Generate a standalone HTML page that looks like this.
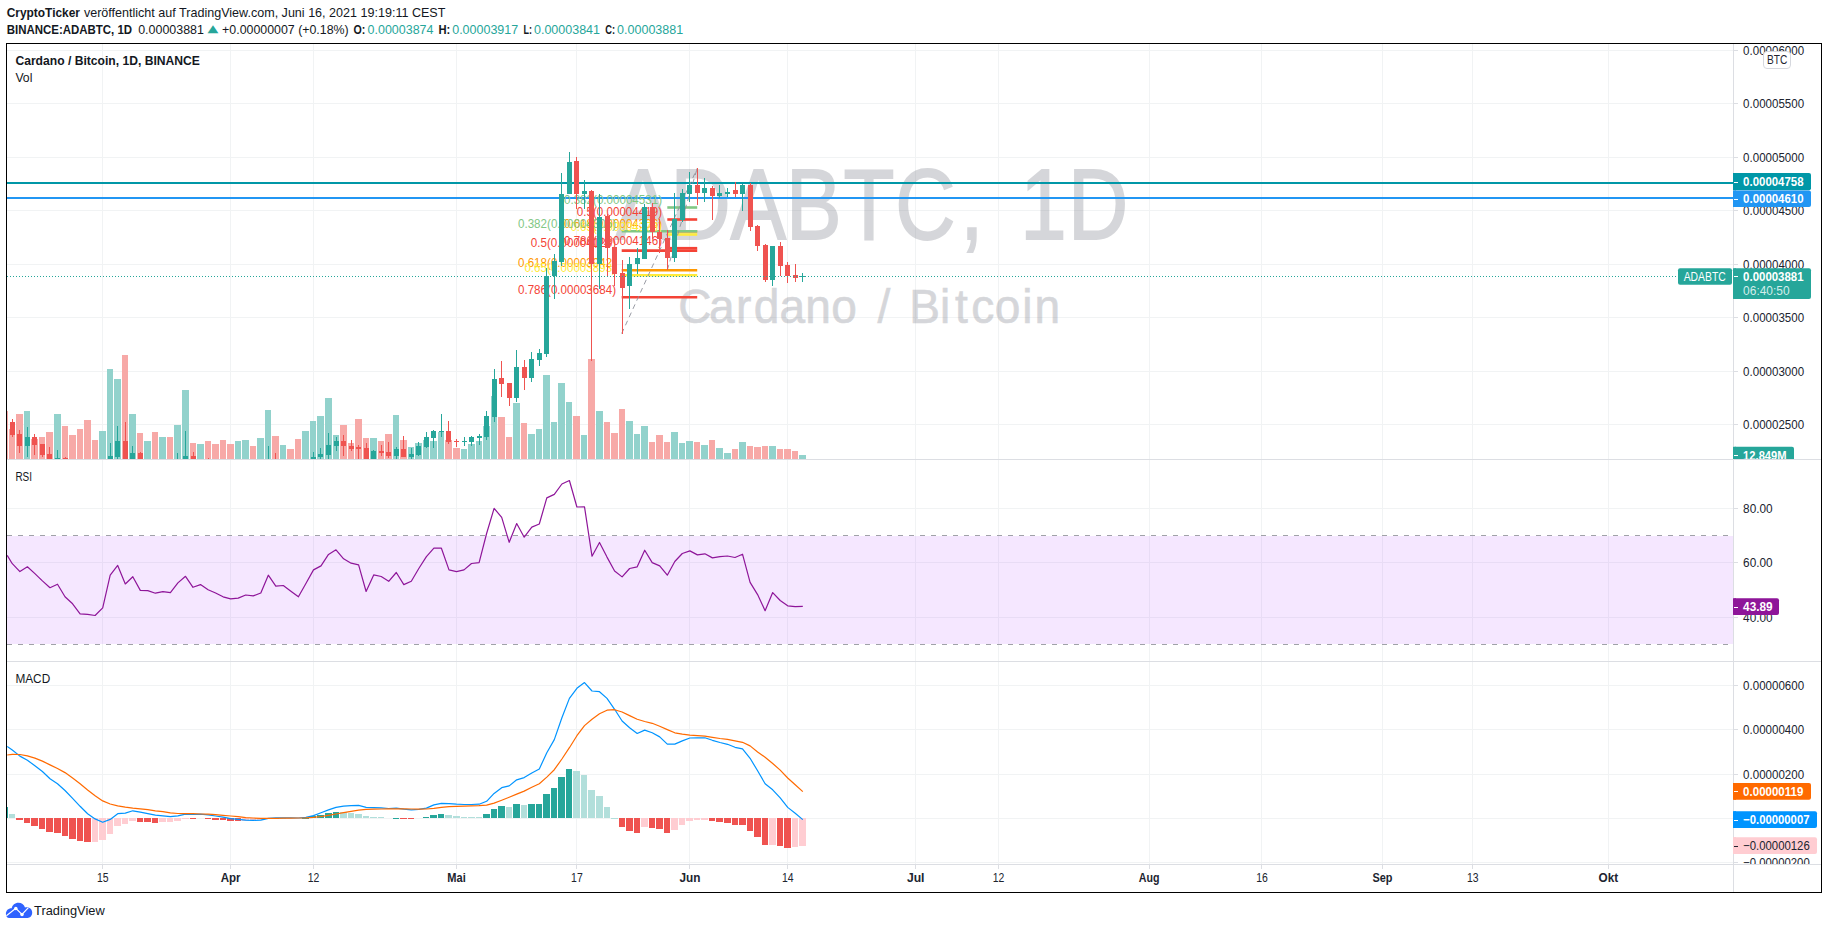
<!DOCTYPE html>
<html lang="de"><head><meta charset="utf-8"><title>ADABTC 1D - TradingView</title>
<style>html,body{margin:0;padding:0;background:#fff;}svg{display:block;}</style></head>
<body>
<svg width="1828" height="929" viewBox="0 0 1828 929" font-family='"Liberation Sans", sans-serif' font-size="12">
<defs>
<clipPath id="cpMain"><rect x="7" y="44" width="1726" height="415"/></clipPath>
<clipPath id="cpRsi"><rect x="7" y="460" width="1726" height="201"/></clipPath>
<clipPath id="cpMacd"><rect x="7" y="662" width="1726" height="202"/></clipPath>
<clipPath id="cpAxMain"><rect x="1733" y="44" width="88" height="415"/></clipPath>
<clipPath id="cpAxRsi"><rect x="1733" y="460" width="88" height="201"/></clipPath>
<clipPath id="cpAxMacd"><rect x="1733" y="662" width="88" height="202"/></clipPath>
</defs>
<rect width="1828" height="929" fill="#fff"/>
<g font-size="13">
<text x="6.7" y="17" fill="#131722" font-weight="bold" textLength="73.3" lengthAdjust="spacingAndGlyphs" >CryptoTicker</text>
<text x="83.9" y="17" fill="#131722" textLength="361.5" lengthAdjust="spacingAndGlyphs" >veröffentlicht auf TradingView.com, Juni 16, 2021 19:19:11 CEST</text>
<text x="6.7" y="34" fill="#131722" font-weight="bold" textLength="125.4" lengthAdjust="spacingAndGlyphs" >BINANCE:ADABTC, 1D</text>
<text x="138.2" y="34" fill="#131722" textLength="65.7" lengthAdjust="spacingAndGlyphs" >0.00003881</text>
<text x="207.6" y="32.1" font-family="DejaVu Sans, sans-serif" font-size="10.5" fill="#26a69a" textLength="10.8" lengthAdjust="spacingAndGlyphs">▲</text>
<text x="222.1" y="34" fill="#131722" textLength="126.6" lengthAdjust="spacingAndGlyphs" >+0.00000007 (+0.18%)</text>
<text x="353.4" y="34" fill="#131722" font-weight="bold" textLength="11.8" lengthAdjust="spacingAndGlyphs" >O:</text>
<text x="367.6" y="34" fill="#26a69a" textLength="65.9" lengthAdjust="spacingAndGlyphs" >0.00003874</text>
<text x="438.5" y="34" fill="#131722" font-weight="bold" textLength="11.8" lengthAdjust="spacingAndGlyphs" >H:</text>
<text x="452.2" y="34" fill="#26a69a" textLength="66" lengthAdjust="spacingAndGlyphs" >0.00003917</text>
<text x="523.5" y="34" fill="#131722" font-weight="bold" textLength="8.5" lengthAdjust="spacingAndGlyphs" >L:</text>
<text x="534" y="34" fill="#26a69a" textLength="66" lengthAdjust="spacingAndGlyphs" >0.00003841</text>
<text x="605.3" y="34" fill="#131722" font-weight="bold" textLength="9.8" lengthAdjust="spacingAndGlyphs" >C:</text>
<text x="617.1" y="34" fill="#26a69a" textLength="66.1" lengthAdjust="spacingAndGlyphs" >0.00003881</text>
</g>
<g stroke="#f1f3f4" stroke-width="1" shape-rendering="crispEdges">
<line x1="102.5" y1="44" x2="102.5" y2="864"/>
<line x1="230.5" y1="44" x2="230.5" y2="864"/>
<line x1="313.5" y1="44" x2="313.5" y2="864"/>
<line x1="456.5" y1="44" x2="456.5" y2="864"/>
<line x1="576.5" y1="44" x2="576.5" y2="864"/>
<line x1="689.5" y1="44" x2="689.5" y2="864"/>
<line x1="787.5" y1="44" x2="787.5" y2="864"/>
<line x1="915.5" y1="44" x2="915.5" y2="864"/>
<line x1="998.5" y1="44" x2="998.5" y2="864"/>
<line x1="1149.5" y1="44" x2="1149.5" y2="864"/>
<line x1="1261.5" y1="44" x2="1261.5" y2="864"/>
<line x1="1382.5" y1="44" x2="1382.5" y2="864"/>
<line x1="1472.5" y1="44" x2="1472.5" y2="864"/>
<line x1="1608.5" y1="44" x2="1608.5" y2="864"/>
<line x1="7" y1="50.5" x2="1733" y2="50.5"/>
<line x1="7" y1="103.5" x2="1733" y2="103.5"/>
<line x1="7" y1="157.5" x2="1733" y2="157.5"/>
<line x1="7" y1="210.5" x2="1733" y2="210.5"/>
<line x1="7" y1="264.5" x2="1733" y2="264.5"/>
<line x1="7" y1="317.5" x2="1733" y2="317.5"/>
<line x1="7" y1="371.5" x2="1733" y2="371.5"/>
<line x1="7" y1="424.5" x2="1733" y2="424.5"/>
<line x1="7" y1="508.5" x2="1733" y2="508.5"/>
<line x1="7" y1="562.5" x2="1733" y2="562.5"/>
<line x1="7" y1="617.5" x2="1733" y2="617.5"/>
<line x1="7" y1="685.5" x2="1733" y2="685.5"/>
<line x1="7" y1="729.5" x2="1733" y2="729.5"/>
<line x1="7" y1="774.5" x2="1733" y2="774.5"/>
<line x1="7" y1="818.5" x2="1733" y2="818.5"/>
<line x1="7" y1="862.5" x2="1733" y2="862.5"/>
</g>
<text transform="scale(0.825,1)" x="745.5 812.7 885.5 952.7 1022.3 1085.3 1163.9 1202.7 1236.7 1294.5" y="238.8" font-size="101" fill="#787b86" stroke="#787b86" stroke-width="1.8" opacity="0.3">ADABTC, 1D</text>
<text transform="scale(0.95,1)" x="713.9 746.3 774.8 793.3 820.6 847.7 875.1 903.0 923.8 944.6 957.1 989.4 1005.3 1022.4 1047.1 1076.0 1088.9" y="323.5" font-size="48.5" fill="#787b86" stroke="#787b86" stroke-width="0.7" opacity="0.3">Cardano / Bitcoin</text>
<g clip-path="url(#cpMain)">
<g shape-rendering="crispEdges">
<rect x="1" y="411" width="7" height="49" fill="#f7a9a7"/>
<rect x="9" y="429" width="6" height="31" fill="#f7a9a7"/>
<rect x="16" y="414" width="7" height="46" fill="#f7a9a7"/>
<rect x="24" y="411" width="6" height="49" fill="#92d2cc"/>
<rect x="31" y="439" width="7" height="21" fill="#f7a9a7"/>
<rect x="39" y="437" width="6" height="23" fill="#f7a9a7"/>
<rect x="46" y="432" width="7" height="28" fill="#f7a9a7"/>
<rect x="54" y="414" width="7" height="46" fill="#92d2cc"/>
<rect x="62" y="426" width="6" height="34" fill="#f7a9a7"/>
<rect x="69" y="435" width="7" height="25" fill="#f7a9a7"/>
<rect x="77" y="429" width="6" height="31" fill="#f7a9a7"/>
<rect x="84" y="420" width="7" height="40" fill="#f7a9a7"/>
<rect x="92" y="440" width="6" height="20" fill="#f7a9a7"/>
<rect x="99" y="431" width="7" height="29" fill="#92d2cc"/>
<rect x="107" y="369" width="6" height="91" fill="#92d2cc"/>
<rect x="114" y="379" width="7" height="81" fill="#92d2cc"/>
<rect x="122" y="355" width="6" height="105" fill="#f7a9a7"/>
<rect x="129" y="414" width="7" height="46" fill="#92d2cc"/>
<rect x="137" y="433" width="6" height="27" fill="#f7a9a7"/>
<rect x="144" y="441" width="7" height="19" fill="#92d2cc"/>
<rect x="152" y="432" width="6" height="28" fill="#f7a9a7"/>
<rect x="159" y="437" width="7" height="23" fill="#92d2cc"/>
<rect x="167" y="437" width="6" height="23" fill="#f7a9a7"/>
<rect x="174" y="425" width="7" height="35" fill="#92d2cc"/>
<rect x="182" y="390" width="7" height="70" fill="#92d2cc"/>
<rect x="190" y="443" width="6" height="17" fill="#f7a9a7"/>
<rect x="197" y="444" width="7" height="16" fill="#92d2cc"/>
<rect x="205" y="441" width="6" height="19" fill="#f7a9a7"/>
<rect x="212" y="444" width="7" height="16" fill="#f7a9a7"/>
<rect x="220" y="440" width="6" height="20" fill="#f7a9a7"/>
<rect x="227" y="444" width="7" height="16" fill="#f7a9a7"/>
<rect x="235" y="441" width="6" height="19" fill="#92d2cc"/>
<rect x="242" y="440" width="7" height="20" fill="#92d2cc"/>
<rect x="250" y="446" width="6" height="14" fill="#f7a9a7"/>
<rect x="257" y="438" width="7" height="22" fill="#92d2cc"/>
<rect x="265" y="410" width="6" height="50" fill="#92d2cc"/>
<rect x="272" y="436" width="7" height="24" fill="#f7a9a7"/>
<rect x="280" y="445" width="6" height="15" fill="#92d2cc"/>
<rect x="287" y="449" width="7" height="11" fill="#f7a9a7"/>
<rect x="295" y="439" width="6" height="21" fill="#f7a9a7"/>
<rect x="302" y="431" width="7" height="29" fill="#92d2cc"/>
<rect x="310" y="421" width="6" height="39" fill="#92d2cc"/>
<rect x="317" y="416" width="7" height="44" fill="#92d2cc"/>
<rect x="325" y="398" width="7" height="62" fill="#92d2cc"/>
<rect x="333" y="435" width="6" height="25" fill="#92d2cc"/>
<rect x="340" y="425" width="7" height="35" fill="#f7a9a7"/>
<rect x="348" y="443" width="6" height="17" fill="#f7a9a7"/>
<rect x="355" y="419" width="7" height="41" fill="#f7a9a7"/>
<rect x="363" y="438" width="6" height="22" fill="#f7a9a7"/>
<rect x="370" y="438" width="7" height="22" fill="#92d2cc"/>
<rect x="378" y="441" width="6" height="19" fill="#f7a9a7"/>
<rect x="385" y="434" width="7" height="26" fill="#f7a9a7"/>
<rect x="393" y="415" width="6" height="45" fill="#92d2cc"/>
<rect x="400" y="440" width="7" height="20" fill="#f7a9a7"/>
<rect x="408" y="447" width="6" height="13" fill="#92d2cc"/>
<rect x="415" y="443" width="7" height="17" fill="#92d2cc"/>
<rect x="423" y="440" width="6" height="20" fill="#92d2cc"/>
<rect x="430" y="441" width="7" height="19" fill="#92d2cc"/>
<rect x="438" y="432" width="6" height="28" fill="#92d2cc"/>
<rect x="445" y="440" width="7" height="20" fill="#f7a9a7"/>
<rect x="453" y="448" width="7" height="12" fill="#f7a9a7"/>
<rect x="461" y="449" width="6" height="11" fill="#92d2cc"/>
<rect x="468" y="444" width="7" height="16" fill="#92d2cc"/>
<rect x="476" y="441" width="6" height="19" fill="#92d2cc"/>
<rect x="483" y="426" width="7" height="34" fill="#92d2cc"/>
<rect x="491" y="396" width="6" height="64" fill="#92d2cc"/>
<rect x="498" y="417" width="7" height="43" fill="#f7a9a7"/>
<rect x="506" y="437" width="6" height="23" fill="#f7a9a7"/>
<rect x="513" y="403" width="7" height="57" fill="#92d2cc"/>
<rect x="521" y="423" width="6" height="37" fill="#f7a9a7"/>
<rect x="528" y="434" width="7" height="26" fill="#92d2cc"/>
<rect x="536" y="429" width="6" height="31" fill="#92d2cc"/>
<rect x="543" y="375" width="7" height="85" fill="#92d2cc"/>
<rect x="551" y="422" width="6" height="38" fill="#92d2cc"/>
<rect x="558" y="383" width="7" height="77" fill="#92d2cc"/>
<rect x="566" y="402" width="6" height="58" fill="#92d2cc"/>
<rect x="573" y="416" width="7" height="44" fill="#f7a9a7"/>
<rect x="581" y="435" width="6" height="25" fill="#92d2cc"/>
<rect x="588" y="359" width="7" height="101" fill="#f7a9a7"/>
<rect x="596" y="411" width="7" height="49" fill="#92d2cc"/>
<rect x="604" y="422" width="6" height="38" fill="#f7a9a7"/>
<rect x="611" y="433" width="7" height="27" fill="#f7a9a7"/>
<rect x="619" y="409" width="6" height="51" fill="#f7a9a7"/>
<rect x="626" y="421" width="7" height="39" fill="#92d2cc"/>
<rect x="634" y="434" width="6" height="26" fill="#92d2cc"/>
<rect x="641" y="426" width="7" height="34" fill="#92d2cc"/>
<rect x="649" y="442" width="6" height="18" fill="#f7a9a7"/>
<rect x="656" y="435" width="7" height="25" fill="#f7a9a7"/>
<rect x="664" y="442" width="6" height="18" fill="#f7a9a7"/>
<rect x="671" y="432" width="7" height="28" fill="#92d2cc"/>
<rect x="679" y="443" width="6" height="17" fill="#92d2cc"/>
<rect x="686" y="441" width="7" height="19" fill="#92d2cc"/>
<rect x="694" y="442" width="6" height="18" fill="#f7a9a7"/>
<rect x="701" y="445" width="7" height="15" fill="#92d2cc"/>
<rect x="709" y="440" width="6" height="20" fill="#f7a9a7"/>
<rect x="716" y="448" width="7" height="12" fill="#92d2cc"/>
<rect x="724" y="453" width="7" height="7" fill="#92d2cc"/>
<rect x="732" y="449" width="6" height="11" fill="#f7a9a7"/>
<rect x="739" y="442" width="7" height="18" fill="#92d2cc"/>
<rect x="747" y="446" width="6" height="14" fill="#f7a9a7"/>
<rect x="754" y="447" width="7" height="13" fill="#f7a9a7"/>
<rect x="762" y="446" width="6" height="14" fill="#f7a9a7"/>
<rect x="769" y="446" width="7" height="14" fill="#92d2cc"/>
<rect x="777" y="449" width="6" height="11" fill="#f7a9a7"/>
<rect x="784" y="449" width="7" height="11" fill="#f7a9a7"/>
<rect x="792" y="451" width="6" height="9" fill="#f7a9a7"/>
<rect x="799" y="455" width="7" height="5" fill="#92d2cc"/>
</g>
<line x1="7" y1="183" x2="1733" y2="183" stroke="#0097a7" stroke-width="2"/>
<line x1="7" y1="198" x2="1733" y2="198" stroke="#2196f3" stroke-width="2"/>
<line x1="667.3" y1="207.5" x2="697.2" y2="207.5" stroke="#81c784" stroke-width="2.6"/>
<line x1="667.3" y1="219.5" x2="697.2" y2="219.5" stroke="#f44336" stroke-width="2.6"/>
<line x1="667.3" y1="231.3" x2="697.2" y2="231.3" stroke="#ff9800" stroke-width="2.6"/>
<line x1="667.3" y1="234.5" x2="697.2" y2="234.5" stroke="#ffeb3b" stroke-width="2.6"/>
<line x1="667.3" y1="248.2" x2="697.2" y2="248.2" stroke="#f44336" stroke-width="2.6"/>
<line x1="621.7" y1="231.3" x2="697.2" y2="231.3" stroke="#81c784" stroke-width="2.6"/>
<line x1="621.7" y1="250.6" x2="697.2" y2="250.6" stroke="#f44336" stroke-width="2.6"/>
<line x1="621.7" y1="270.3" x2="697.2" y2="270.3" stroke="#ff9800" stroke-width="2.6"/>
<line x1="621.7" y1="275.2" x2="697.2" y2="275.2" stroke="#ffeb3b" stroke-width="2.6"/>
<line x1="621.7" y1="297.3" x2="697.2" y2="297.3" stroke="#f44336" stroke-width="2.6"/>
<line x1="621.7" y1="333.5" x2="697.2" y2="168.3" stroke="#8d909a" stroke-width="0.9" stroke-dasharray="5 4"/>
<line x1="667.3" y1="270" x2="697.2" y2="168.3" stroke="#8d909a" stroke-width="0.9" stroke-dasharray="5 4"/>
<text x="662" y="203.8" fill="#81c784" font-size="12" text-anchor="end" textLength="98" lengthAdjust="spacingAndGlyphs" >0.382(0.00004531)</text>
<text x="662" y="215.8" fill="#f44336" font-size="12" text-anchor="end" textLength="85.2" lengthAdjust="spacingAndGlyphs" >0.5(0.00004419)</text>
<text x="662" y="227.60000000000002" fill="#ff9800" font-size="12" text-anchor="end" textLength="98" lengthAdjust="spacingAndGlyphs" >0.618(0.00004306)</text>
<text x="662" y="230.8" fill="#ffeb3b" font-size="12" text-anchor="end" textLength="91.6" lengthAdjust="spacingAndGlyphs" >0.65(0.00004276)</text>
<text x="662" y="244.5" fill="#f44336" font-size="12" text-anchor="end" textLength="98" lengthAdjust="spacingAndGlyphs" >0.786(0.00004146)</text>
<text x="616" y="227.60000000000002" fill="#81c784" font-size="12" text-anchor="end" textLength="98" lengthAdjust="spacingAndGlyphs" >0.382(0.00004305)</text>
<text x="616" y="246.9" fill="#f44336" font-size="12" text-anchor="end" textLength="85.2" lengthAdjust="spacingAndGlyphs" >0.5(0.00004123)</text>
<text x="616" y="266.6" fill="#ff9800" font-size="12" text-anchor="end" textLength="98" lengthAdjust="spacingAndGlyphs" >0.618(0.00003942)</text>
<text x="616" y="271.5" fill="#ffeb3b" font-size="12" text-anchor="end" textLength="91.6" lengthAdjust="spacingAndGlyphs" >0.65(0.00003893)</text>
<text x="616" y="293.6" fill="#f44336" font-size="12" text-anchor="end" textLength="98" lengthAdjust="spacingAndGlyphs" >0.786(0.00003684)</text>
<g shape-rendering="crispEdges">
<rect x="12" y="419" width="1" height="18" fill="#ef5350"/>
<rect x="10" y="422" width="5" height="13" fill="#ef5350"/>
<rect x="19" y="430" width="1" height="23" fill="#ef5350"/>
<rect x="17" y="434" width="5" height="12" fill="#ef5350"/>
<rect x="27" y="427" width="1" height="30" fill="#26a69a"/>
<rect x="25" y="437" width="5" height="9" fill="#26a69a"/>
<rect x="34" y="434" width="1" height="21" fill="#ef5350"/>
<rect x="32" y="437" width="5" height="8" fill="#ef5350"/>
<rect x="42" y="444" width="1" height="13" fill="#ef5350"/>
<rect x="40" y="444" width="5" height="11" fill="#ef5350"/>
<rect x="49" y="447" width="1" height="20" fill="#ef5350"/>
<rect x="47" y="454" width="5" height="11" fill="#ef5350"/>
<rect x="57" y="450" width="1" height="16" fill="#26a69a"/>
<rect x="55" y="458" width="5" height="5" fill="#26a69a"/>
<rect x="65" y="457" width="1" height="13" fill="#ef5350"/>
<rect x="63" y="458" width="5" height="8" fill="#ef5350"/>
<rect x="72" y="462" width="1" height="14" fill="#ef5350"/>
<rect x="70" y="466" width="5" height="6" fill="#ef5350"/>
<rect x="80" y="462" width="1" height="14" fill="#ef5350"/>
<rect x="78" y="466" width="5" height="6" fill="#ef5350"/>
<rect x="87" y="462" width="1" height="14" fill="#ef5350"/>
<rect x="85" y="466" width="5" height="6" fill="#ef5350"/>
<rect x="95" y="462" width="1" height="14" fill="#ef5350"/>
<rect x="93" y="466" width="5" height="6" fill="#ef5350"/>
<rect x="102" y="462" width="1" height="14" fill="#26a69a"/>
<rect x="100" y="466" width="5" height="6" fill="#26a69a"/>
<rect x="110" y="443" width="1" height="32" fill="#26a69a"/>
<rect x="108" y="456" width="5" height="14" fill="#26a69a"/>
<rect x="117" y="426" width="1" height="33" fill="#26a69a"/>
<rect x="115" y="441" width="5" height="16" fill="#26a69a"/>
<rect x="125" y="422" width="1" height="43" fill="#ef5350"/>
<rect x="123" y="441" width="5" height="21" fill="#ef5350"/>
<rect x="132" y="446" width="1" height="20" fill="#26a69a"/>
<rect x="130" y="453" width="5" height="9" fill="#26a69a"/>
<rect x="140" y="452" width="1" height="16" fill="#ef5350"/>
<rect x="138" y="453" width="5" height="10" fill="#ef5350"/>
<rect x="147" y="462" width="1" height="14" fill="#26a69a"/>
<rect x="145" y="466" width="5" height="6" fill="#26a69a"/>
<rect x="155" y="462" width="1" height="14" fill="#ef5350"/>
<rect x="153" y="466" width="5" height="6" fill="#ef5350"/>
<rect x="162" y="462" width="1" height="14" fill="#26a69a"/>
<rect x="160" y="466" width="5" height="6" fill="#26a69a"/>
<rect x="170" y="462" width="1" height="14" fill="#ef5350"/>
<rect x="168" y="466" width="5" height="6" fill="#ef5350"/>
<rect x="177" y="453" width="1" height="17" fill="#26a69a"/>
<rect x="175" y="461" width="5" height="5" fill="#26a69a"/>
<rect x="185" y="431" width="1" height="37" fill="#26a69a"/>
<rect x="183" y="456" width="5" height="8" fill="#26a69a"/>
<rect x="193" y="452" width="1" height="16" fill="#ef5350"/>
<rect x="191" y="456" width="5" height="9" fill="#ef5350"/>
<rect x="200" y="462" width="1" height="14" fill="#26a69a"/>
<rect x="198" y="466" width="5" height="6" fill="#26a69a"/>
<rect x="208" y="458" width="1" height="12" fill="#ef5350"/>
<rect x="206" y="462" width="5" height="4" fill="#ef5350"/>
<rect x="215" y="462" width="1" height="14" fill="#ef5350"/>
<rect x="213" y="466" width="5" height="6" fill="#ef5350"/>
<rect x="223" y="462" width="1" height="14" fill="#ef5350"/>
<rect x="221" y="466" width="5" height="6" fill="#ef5350"/>
<rect x="230" y="462" width="1" height="14" fill="#ef5350"/>
<rect x="228" y="466" width="5" height="6" fill="#ef5350"/>
<rect x="238" y="462" width="1" height="14" fill="#26a69a"/>
<rect x="236" y="466" width="5" height="6" fill="#26a69a"/>
<rect x="245" y="462" width="1" height="14" fill="#26a69a"/>
<rect x="243" y="466" width="5" height="6" fill="#26a69a"/>
<rect x="253" y="462" width="1" height="14" fill="#ef5350"/>
<rect x="251" y="466" width="5" height="6" fill="#ef5350"/>
<rect x="260" y="462" width="1" height="14" fill="#26a69a"/>
<rect x="258" y="466" width="5" height="6" fill="#26a69a"/>
<rect x="268" y="446" width="1" height="22" fill="#26a69a"/>
<rect x="266" y="460" width="5" height="5" fill="#26a69a"/>
<rect x="275" y="453" width="1" height="15" fill="#ef5350"/>
<rect x="273" y="461" width="5" height="5" fill="#ef5350"/>
<rect x="283" y="462" width="1" height="14" fill="#26a69a"/>
<rect x="281" y="466" width="5" height="6" fill="#26a69a"/>
<rect x="290" y="462" width="1" height="14" fill="#ef5350"/>
<rect x="288" y="466" width="5" height="6" fill="#ef5350"/>
<rect x="298" y="462" width="1" height="14" fill="#ef5350"/>
<rect x="296" y="466" width="5" height="6" fill="#ef5350"/>
<rect x="305" y="462" width="1" height="14" fill="#26a69a"/>
<rect x="303" y="466" width="5" height="6" fill="#26a69a"/>
<rect x="313" y="452" width="1" height="13" fill="#26a69a"/>
<rect x="311" y="457" width="5" height="5" fill="#26a69a"/>
<rect x="320" y="448" width="1" height="11" fill="#26a69a"/>
<rect x="318" y="454" width="5" height="3" fill="#26a69a"/>
<rect x="328" y="433" width="1" height="27" fill="#26a69a"/>
<rect x="326" y="445" width="5" height="10" fill="#26a69a"/>
<rect x="336" y="437" width="1" height="14" fill="#26a69a"/>
<rect x="334" y="441" width="5" height="5" fill="#26a69a"/>
<rect x="343" y="435" width="1" height="21" fill="#ef5350"/>
<rect x="341" y="441" width="5" height="5" fill="#ef5350"/>
<rect x="351" y="440" width="1" height="11" fill="#ef5350"/>
<rect x="349" y="446" width="5" height="3" fill="#ef5350"/>
<rect x="358" y="445" width="1" height="15" fill="#ef5350"/>
<rect x="356" y="447" width="5" height="2" fill="#ef5350"/>
<rect x="366" y="443" width="1" height="19" fill="#ef5350"/>
<rect x="364" y="448" width="5" height="12" fill="#ef5350"/>
<rect x="373" y="450" width="1" height="12" fill="#26a69a"/>
<rect x="371" y="451" width="5" height="9" fill="#26a69a"/>
<rect x="381" y="445" width="1" height="11" fill="#ef5350"/>
<rect x="379" y="451" width="5" height="2" fill="#ef5350"/>
<rect x="388" y="442" width="1" height="16" fill="#ef5350"/>
<rect x="386" y="452" width="5" height="4" fill="#ef5350"/>
<rect x="396" y="447" width="1" height="12" fill="#26a69a"/>
<rect x="394" y="449" width="5" height="7" fill="#26a69a"/>
<rect x="403" y="436" width="1" height="21" fill="#ef5350"/>
<rect x="401" y="449" width="5" height="8" fill="#ef5350"/>
<rect x="411" y="448" width="1" height="11" fill="#26a69a"/>
<rect x="409" y="454" width="5" height="3" fill="#26a69a"/>
<rect x="418" y="442" width="1" height="14" fill="#26a69a"/>
<rect x="416" y="446" width="5" height="9" fill="#26a69a"/>
<rect x="426" y="432" width="1" height="16" fill="#26a69a"/>
<rect x="424" y="437" width="5" height="10" fill="#26a69a"/>
<rect x="433" y="430" width="1" height="18" fill="#26a69a"/>
<rect x="431" y="431" width="5" height="7" fill="#26a69a"/>
<rect x="441" y="414" width="1" height="23" fill="#26a69a"/>
<rect x="439" y="431" width="5" height="1" fill="#26a69a"/>
<rect x="448" y="421" width="1" height="23" fill="#ef5350"/>
<rect x="446" y="431" width="5" height="11" fill="#ef5350"/>
<rect x="456" y="439" width="1" height="8" fill="#ef5350"/>
<rect x="454" y="441" width="5" height="1" fill="#ef5350"/>
<rect x="464" y="437" width="1" height="9" fill="#26a69a"/>
<rect x="462" y="441" width="5" height="1" fill="#26a69a"/>
<rect x="471" y="436" width="1" height="10" fill="#26a69a"/>
<rect x="469" y="437" width="5" height="5" fill="#26a69a"/>
<rect x="479" y="434" width="1" height="11" fill="#26a69a"/>
<rect x="477" y="436" width="5" height="2" fill="#26a69a"/>
<rect x="486" y="411" width="1" height="29" fill="#26a69a"/>
<rect x="484" y="416" width="5" height="21" fill="#26a69a"/>
<rect x="494" y="369" width="1" height="53" fill="#26a69a"/>
<rect x="492" y="379" width="5" height="38" fill="#26a69a"/>
<rect x="501" y="361" width="1" height="36" fill="#ef5350"/>
<rect x="499" y="378" width="5" height="6" fill="#ef5350"/>
<rect x="509" y="383" width="1" height="23" fill="#ef5350"/>
<rect x="507" y="383" width="5" height="15" fill="#ef5350"/>
<rect x="516" y="350" width="1" height="52" fill="#26a69a"/>
<rect x="514" y="367" width="5" height="31" fill="#26a69a"/>
<rect x="524" y="360" width="1" height="30" fill="#ef5350"/>
<rect x="522" y="367" width="5" height="11" fill="#ef5350"/>
<rect x="531" y="352" width="1" height="30" fill="#26a69a"/>
<rect x="529" y="359" width="5" height="19" fill="#26a69a"/>
<rect x="539" y="349" width="1" height="17" fill="#26a69a"/>
<rect x="537" y="353" width="5" height="7" fill="#26a69a"/>
<rect x="546" y="268" width="1" height="89" fill="#26a69a"/>
<rect x="544" y="276" width="5" height="78" fill="#26a69a"/>
<rect x="554" y="254" width="1" height="45" fill="#26a69a"/>
<rect x="552" y="261" width="5" height="15" fill="#26a69a"/>
<rect x="561" y="173" width="1" height="93" fill="#26a69a"/>
<rect x="559" y="194" width="5" height="68" fill="#26a69a"/>
<rect x="569" y="152" width="1" height="42" fill="#26a69a"/>
<rect x="567" y="162" width="5" height="32" fill="#26a69a"/>
<rect x="576" y="157" width="1" height="52" fill="#ef5350"/>
<rect x="574" y="161" width="5" height="33" fill="#ef5350"/>
<rect x="584" y="180" width="1" height="29" fill="#26a69a"/>
<rect x="582" y="191" width="5" height="3" fill="#26a69a"/>
<rect x="591" y="190" width="1" height="171" fill="#ef5350"/>
<rect x="589" y="191" width="5" height="73" fill="#ef5350"/>
<rect x="599" y="194" width="1" height="95" fill="#26a69a"/>
<rect x="597" y="217" width="5" height="47" fill="#26a69a"/>
<rect x="607" y="214" width="1" height="63" fill="#ef5350"/>
<rect x="605" y="216" width="5" height="32" fill="#ef5350"/>
<rect x="614" y="247" width="1" height="39" fill="#ef5350"/>
<rect x="612" y="247" width="5" height="27" fill="#ef5350"/>
<rect x="622" y="260" width="1" height="74" fill="#ef5350"/>
<rect x="620" y="273" width="5" height="15" fill="#ef5350"/>
<rect x="629" y="257" width="1" height="52" fill="#26a69a"/>
<rect x="627" y="264" width="5" height="22" fill="#26a69a"/>
<rect x="637" y="248" width="1" height="26" fill="#26a69a"/>
<rect x="635" y="258" width="5" height="6" fill="#26a69a"/>
<rect x="644" y="204" width="1" height="55" fill="#26a69a"/>
<rect x="642" y="207" width="5" height="52" fill="#26a69a"/>
<rect x="652" y="203" width="1" height="36" fill="#ef5350"/>
<rect x="650" y="207" width="5" height="25" fill="#ef5350"/>
<rect x="659" y="219" width="1" height="34" fill="#ef5350"/>
<rect x="657" y="232" width="5" height="7" fill="#ef5350"/>
<rect x="667" y="230" width="1" height="40" fill="#ef5350"/>
<rect x="665" y="238" width="5" height="20" fill="#ef5350"/>
<rect x="674" y="193" width="1" height="69" fill="#26a69a"/>
<rect x="672" y="219" width="5" height="39" fill="#26a69a"/>
<rect x="682" y="189" width="1" height="33" fill="#26a69a"/>
<rect x="680" y="193" width="5" height="27" fill="#26a69a"/>
<rect x="689" y="172" width="1" height="30" fill="#26a69a"/>
<rect x="687" y="185" width="5" height="9" fill="#26a69a"/>
<rect x="697" y="168" width="1" height="37" fill="#ef5350"/>
<rect x="695" y="185" width="5" height="8" fill="#ef5350"/>
<rect x="704" y="178" width="1" height="24" fill="#26a69a"/>
<rect x="702" y="188" width="5" height="5" fill="#26a69a"/>
<rect x="712" y="186" width="1" height="34" fill="#ef5350"/>
<rect x="710" y="188" width="5" height="8" fill="#ef5350"/>
<rect x="719" y="185" width="1" height="13" fill="#26a69a"/>
<rect x="717" y="193" width="5" height="3" fill="#26a69a"/>
<rect x="727" y="188" width="1" height="9" fill="#26a69a"/>
<rect x="725" y="192" width="5" height="2" fill="#26a69a"/>
<rect x="735" y="182" width="1" height="15" fill="#ef5350"/>
<rect x="733" y="190" width="5" height="4" fill="#ef5350"/>
<rect x="742" y="184" width="1" height="27" fill="#26a69a"/>
<rect x="740" y="185" width="5" height="9" fill="#26a69a"/>
<rect x="750" y="183" width="1" height="48" fill="#ef5350"/>
<rect x="748" y="185" width="5" height="42" fill="#ef5350"/>
<rect x="757" y="225" width="1" height="26" fill="#ef5350"/>
<rect x="755" y="226" width="5" height="20" fill="#ef5350"/>
<rect x="765" y="244" width="1" height="38" fill="#ef5350"/>
<rect x="763" y="245" width="5" height="35" fill="#ef5350"/>
<rect x="772" y="246" width="1" height="40" fill="#26a69a"/>
<rect x="770" y="246" width="5" height="34" fill="#26a69a"/>
<rect x="780" y="242" width="1" height="34" fill="#ef5350"/>
<rect x="778" y="246" width="5" height="20" fill="#ef5350"/>
<rect x="787" y="262" width="1" height="21" fill="#ef5350"/>
<rect x="785" y="265" width="5" height="11" fill="#ef5350"/>
<rect x="795" y="264" width="1" height="18" fill="#ef5350"/>
<rect x="793" y="275" width="5" height="3" fill="#ef5350"/>
<rect x="802" y="273" width="1" height="9" fill="#26a69a"/>
<rect x="800" y="276" width="5" height="1" fill="#26a69a"/>
</g>
<line x1="7" y1="276.5" x2="1677" y2="276.5" stroke="#26a69a" stroke-width="1" stroke-dasharray="1 2" shape-rendering="crispEdges"/>
</g>
<text x="15.4" y="64.6" fill="#131722" font-size="12.5" font-weight="bold" textLength="184.5" lengthAdjust="spacingAndGlyphs" >Cardano / Bitcoin, 1D, BINANCE</text>
<text x="15.4" y="82" fill="#131722" font-size="12.5" textLength="17" lengthAdjust="spacingAndGlyphs" >Vol</text>
<text x="15.4" y="481.2" fill="#131722" font-size="12.5" textLength="16.6" lengthAdjust="spacingAndGlyphs" >RSI</text>
<text x="15.4" y="682.8" fill="#131722" font-size="12.5" textLength="34.8" lengthAdjust="spacingAndGlyphs" >MACD</text>
<g clip-path="url(#cpRsi)">
<rect x="7" y="536" width="1726" height="108" fill="#9915ff" fill-opacity="0.1"/>
<line x1="7" y1="535.5" x2="1733" y2="535.5" stroke="#a0a2a8" stroke-width="1" stroke-dasharray="5 6"/>
<line x1="7" y1="644.5" x2="1733" y2="644.5" stroke="#a0a2a8" stroke-width="1" stroke-dasharray="5 6"/>
<polyline points="7.2,555.3 12.3,563.7 19.9,571.6 27.4,566.8 34.9,573.6 42.4,580.9 50.0,587.7 57.5,584.2 65.0,596.8 72.6,603.8 80.1,613.8 87.6,614.4 95.1,615.5 102.7,607.8 110.2,575.2 117.7,565.4 125.3,584.0 132.8,576.7 140.3,590.4 147.8,590.6 155.4,593.2 162.9,591.7 170.4,592.6 177.9,582.9 185.5,576.3 193.0,587.3 200.5,584.6 208.1,589.7 215.6,593.0 223.1,596.8 230.6,598.8 238.2,598.1 245.7,595.0 253.2,595.9 260.8,593.0 268.3,575.2 275.8,586.2 283.3,585.5 290.9,591.3 298.4,596.8 305.9,583.5 313.5,569.9 321.0,565.9 328.5,554.4 336.0,549.8 343.6,558.8 351.1,563.2 358.6,564.8 366.1,591.5 373.7,574.9 381.2,576.5 388.7,581.3 396.3,572.5 403.8,584.6 411.3,581.3 418.8,568.5 426.4,556.6 433.9,548.2 441.4,548.2 449.0,569.9 456.5,571.6 464.0,569.9 471.5,563.5 479.1,562.6 486.6,533.5 494.1,508.3 501.7,517.4 509.2,542.3 516.7,523.5 524.2,537.2 531.8,527.1 539.3,524.0 546.8,497.9 554.3,494.4 561.9,484.0 569.4,480.5 576.9,507.0 584.5,506.8 592.0,556.2 599.5,542.5 607.0,557.1 614.6,571.0 622.1,576.9 629.6,568.5 637.2,566.8 644.7,550.2 652.2,562.6 659.7,565.9 667.3,575.2 674.8,561.5 682.3,553.5 689.9,550.9 697.4,554.9 704.9,553.8 712.4,557.9 720.0,556.6 727.5,556.0 735.0,557.5 742.5,554.2 750.1,582.4 757.6,594.6 765.1,610.7 772.7,592.6 780.2,600.5 787.7,605.8 795.2,606.7 802.8,606.3" fill="none" stroke="#8e1599" stroke-width="1.2" stroke-linejoin="round"/>
</g>
<g clip-path="url(#cpMacd)">
<g shape-rendering="crispEdges">
<rect x="1" y="807" width="7" height="11" fill="#26a69a"/>
<rect x="9" y="814" width="6" height="4" fill="#b2dfdb"/>
<rect x="16" y="818" width="7" height="2" fill="#ef5350"/>
<rect x="24" y="818" width="6" height="5" fill="#ef5350"/>
<rect x="31" y="818" width="7" height="8" fill="#ef5350"/>
<rect x="39" y="818" width="6" height="11" fill="#ef5350"/>
<rect x="46" y="818" width="7" height="14" fill="#ef5350"/>
<rect x="54" y="818" width="7" height="15" fill="#ef5350"/>
<rect x="62" y="818" width="6" height="18" fill="#ef5350"/>
<rect x="69" y="818" width="7" height="21" fill="#ef5350"/>
<rect x="77" y="818" width="6" height="23" fill="#ef5350"/>
<rect x="84" y="818" width="7" height="24" fill="#ef5350"/>
<rect x="92" y="818" width="6" height="24" fill="#ffcdd2"/>
<rect x="99" y="818" width="7" height="22" fill="#ffcdd2"/>
<rect x="107" y="818" width="6" height="16" fill="#ffcdd2"/>
<rect x="114" y="818" width="7" height="8" fill="#ffcdd2"/>
<rect x="122" y="818" width="6" height="6" fill="#ffcdd2"/>
<rect x="129" y="818" width="7" height="3" fill="#ffcdd2"/>
<rect x="137" y="818" width="6" height="4" fill="#ef5350"/>
<rect x="144" y="818" width="7" height="4" fill="#ef5350"/>
<rect x="152" y="818" width="6" height="5" fill="#ef5350"/>
<rect x="159" y="818" width="7" height="4" fill="#ffcdd2"/>
<rect x="167" y="818" width="6" height="4" fill="#ffcdd2"/>
<rect x="174" y="818" width="7" height="3" fill="#ffcdd2"/>
<rect x="182" y="818" width="7" height="1" fill="#ffcdd2"/>
<rect x="190" y="818" width="6" height="1" fill="#ef5350"/>
<rect x="205" y="818" width="6" height="1" fill="#ef5350"/>
<rect x="212" y="818" width="7" height="2" fill="#ef5350"/>
<rect x="220" y="818" width="6" height="2" fill="#ef5350"/>
<rect x="227" y="818" width="7" height="3" fill="#ef5350"/>
<rect x="235" y="818" width="6" height="3" fill="#ef5350"/>
<rect x="242" y="818" width="7" height="3" fill="#ffcdd2"/>
<rect x="250" y="818" width="6" height="3" fill="#ffcdd2"/>
<rect x="257" y="818" width="7" height="2" fill="#ffcdd2"/>
<rect x="272" y="818" width="7" height="1" fill="#26a69a"/>
<rect x="280" y="818" width="6" height="1" fill="#b2dfdb"/>
<rect x="302" y="818" width="7" height="1" fill="#26a69a"/>
<rect x="310" y="816" width="6" height="2" fill="#26a69a"/>
<rect x="317" y="815" width="7" height="3" fill="#26a69a"/>
<rect x="325" y="813" width="7" height="5" fill="#26a69a"/>
<rect x="333" y="812" width="6" height="6" fill="#26a69a"/>
<rect x="340" y="812" width="7" height="6" fill="#b2dfdb"/>
<rect x="348" y="813" width="6" height="5" fill="#b2dfdb"/>
<rect x="355" y="814" width="7" height="4" fill="#b2dfdb"/>
<rect x="363" y="816" width="6" height="2" fill="#b2dfdb"/>
<rect x="370" y="817" width="7" height="1" fill="#b2dfdb"/>
<rect x="378" y="817" width="6" height="1" fill="#b2dfdb"/>
<rect x="393" y="818" width="6" height="1" fill="#26a69a"/>
<rect x="400" y="818" width="7" height="1" fill="#ef5350"/>
<rect x="408" y="818" width="6" height="1" fill="#ef5350"/>
<rect x="423" y="817" width="6" height="1" fill="#26a69a"/>
<rect x="430" y="815" width="7" height="3" fill="#26a69a"/>
<rect x="438" y="814" width="6" height="4" fill="#26a69a"/>
<rect x="445" y="815" width="7" height="3" fill="#b2dfdb"/>
<rect x="453" y="816" width="7" height="2" fill="#b2dfdb"/>
<rect x="461" y="817" width="6" height="1" fill="#b2dfdb"/>
<rect x="468" y="817" width="7" height="1" fill="#b2dfdb"/>
<rect x="476" y="817" width="6" height="1" fill="#b2dfdb"/>
<rect x="483" y="814" width="7" height="4" fill="#26a69a"/>
<rect x="491" y="809" width="6" height="9" fill="#26a69a"/>
<rect x="498" y="806" width="7" height="12" fill="#26a69a"/>
<rect x="506" y="807" width="6" height="11" fill="#b2dfdb"/>
<rect x="513" y="804" width="7" height="14" fill="#26a69a"/>
<rect x="521" y="805" width="6" height="13" fill="#b2dfdb"/>
<rect x="528" y="804" width="7" height="14" fill="#26a69a"/>
<rect x="536" y="804" width="6" height="14" fill="#26a69a"/>
<rect x="543" y="794" width="7" height="24" fill="#26a69a"/>
<rect x="551" y="788" width="6" height="30" fill="#26a69a"/>
<rect x="558" y="777" width="7" height="41" fill="#26a69a"/>
<rect x="566" y="769" width="6" height="49" fill="#26a69a"/>
<rect x="573" y="771" width="7" height="47" fill="#b2dfdb"/>
<rect x="581" y="775" width="6" height="43" fill="#b2dfdb"/>
<rect x="588" y="790" width="7" height="28" fill="#b2dfdb"/>
<rect x="596" y="796" width="7" height="22" fill="#b2dfdb"/>
<rect x="604" y="807" width="6" height="11" fill="#b2dfdb"/>
<rect x="611" y="818" width="7" height="1" fill="#b2dfdb"/>
<rect x="619" y="818" width="6" height="9" fill="#ef5350"/>
<rect x="626" y="818" width="7" height="13" fill="#ef5350"/>
<rect x="634" y="818" width="6" height="15" fill="#ef5350"/>
<rect x="641" y="818" width="7" height="9" fill="#ffcdd2"/>
<rect x="649" y="818" width="6" height="10" fill="#ef5350"/>
<rect x="656" y="818" width="7" height="11" fill="#ef5350"/>
<rect x="664" y="818" width="6" height="15" fill="#ef5350"/>
<rect x="671" y="818" width="7" height="12" fill="#ffcdd2"/>
<rect x="679" y="818" width="6" height="7" fill="#ffcdd2"/>
<rect x="686" y="818" width="7" height="3" fill="#ffcdd2"/>
<rect x="694" y="818" width="6" height="2" fill="#ffcdd2"/>
<rect x="701" y="818" width="7" height="2" fill="#ffcdd2"/>
<rect x="709" y="818" width="6" height="3" fill="#ef5350"/>
<rect x="716" y="818" width="7" height="4" fill="#ef5350"/>
<rect x="724" y="818" width="7" height="5" fill="#ef5350"/>
<rect x="732" y="818" width="6" height="7" fill="#ef5350"/>
<rect x="739" y="818" width="7" height="7" fill="#ef5350"/>
<rect x="747" y="818" width="6" height="13" fill="#ef5350"/>
<rect x="754" y="818" width="7" height="19" fill="#ef5350"/>
<rect x="762" y="818" width="6" height="27" fill="#ef5350"/>
<rect x="769" y="818" width="7" height="27" fill="#ffcdd2"/>
<rect x="777" y="818" width="6" height="28" fill="#ef5350"/>
<rect x="784" y="818" width="7" height="30" fill="#ef5350"/>
<rect x="792" y="818" width="6" height="29" fill="#ffcdd2"/>
<rect x="799" y="818" width="7" height="28" fill="#ffcdd2"/>
</g>
<polyline points="7.2,746.4 12.3,750.0 19.9,756.1 27.4,760.2 34.9,765.8 42.4,771.5 50.0,778.7 57.5,783.7 65.0,790.5 72.6,798.4 80.1,806.3 87.6,813.7 95.1,818.9 102.7,822.3 110.2,819.4 117.7,813.7 125.3,813.1 132.8,810.8 140.3,812.2 147.8,813.7 155.4,815.1 162.9,815.8 170.4,816.7 177.9,815.8 185.5,814.2 193.0,814.4 200.5,814.2 208.1,814.9 215.6,816.0 223.1,817.1 230.6,818.7 238.2,819.4 245.7,820.1 253.2,820.3 260.8,820.1 268.3,818.3 275.8,817.8 283.3,817.8 290.9,817.9 298.4,818.0 305.9,817.4 313.5,815.6 321.0,812.8 328.5,809.9 336.0,807.4 343.6,806.1 351.1,805.6 358.6,805.4 366.1,807.4 373.7,807.6 381.2,807.9 388.7,808.5 396.3,808.1 403.8,809.2 411.3,809.9 418.8,809.4 426.4,808.1 433.9,804.9 441.4,803.3 449.0,803.6 456.5,804.2 464.0,804.5 471.5,804.5 479.1,804.2 486.6,801.3 494.1,793.4 501.7,787.7 509.2,785.9 516.7,779.8 524.2,777.6 531.8,773.0 539.3,769.0 546.8,752.7 554.3,739.6 561.9,717.7 569.4,698.4 576.9,688.3 584.5,682.6 592.0,691.0 599.5,691.7 607.0,698.4 614.6,709.3 622.1,721.0 629.6,727.8 637.2,733.5 644.7,730.1 652.2,732.8 659.7,736.9 667.3,744.1 674.8,744.1 682.3,740.9 689.9,738.0 697.4,737.8 704.9,737.8 712.4,740.3 720.0,742.5 727.5,744.3 735.0,747.3 742.5,748.9 750.1,758.3 757.6,770.8 765.1,783.7 772.7,789.8 780.2,797.9 787.7,807.4 795.2,813.3 802.8,819.6" fill="none" stroke="#0094ff" stroke-width="1.2" stroke-linejoin="round"/>
<polyline points="7.2,755.0 12.3,754.3 19.9,754.5 27.4,755.9 34.9,758.1 42.4,761.1 50.0,764.9 57.5,768.5 65.0,772.6 72.6,778.0 80.1,783.7 87.6,790.0 95.1,795.7 102.7,800.9 110.2,804.0 117.7,805.8 125.3,807.2 132.8,808.1 140.3,808.8 147.8,809.7 155.4,810.8 162.9,811.7 170.4,812.8 177.9,813.5 185.5,813.7 193.0,813.7 200.5,814.0 208.1,814.2 215.6,814.6 223.1,815.3 230.6,816.0 238.2,816.7 245.7,817.6 253.2,818.0 260.8,818.3 268.3,818.4 275.8,818.3 283.3,818.2 290.9,818.2 298.4,818.0 305.9,817.8 313.5,817.4 321.0,816.5 328.5,815.3 336.0,814.0 343.6,812.6 351.1,811.3 358.6,810.1 366.1,809.4 373.7,809.2 381.2,809.0 388.7,808.8 396.3,808.8 403.8,808.8 411.3,809.0 418.8,809.2 426.4,809.0 433.9,808.3 441.4,807.4 449.0,806.7 456.5,806.3 464.0,806.1 471.5,805.8 479.1,805.6 486.6,805.2 494.1,803.1 501.7,800.2 509.2,797.2 516.7,794.1 524.2,791.1 531.8,787.3 539.3,783.7 546.8,777.1 554.3,769.7 561.9,759.0 569.4,747.7 576.9,735.7 584.5,725.6 592.0,719.2 599.5,713.8 607.0,710.2 614.6,709.7 622.1,712.0 629.6,715.6 637.2,719.2 644.7,721.5 652.2,723.3 659.7,726.2 667.3,729.6 674.8,732.8 682.3,734.2 689.9,735.1 697.4,735.7 704.9,736.2 712.4,737.3 720.0,738.5 727.5,739.4 735.0,740.9 742.5,742.3 750.1,745.9 757.6,752.0 765.1,757.2 772.7,763.5 780.2,770.1 787.7,778.0 795.2,784.8 802.8,791.6" fill="none" stroke="#ff6a00" stroke-width="1.2" stroke-linejoin="round"/>
</g>
<g shape-rendering="crispEdges">
<rect x="7" y="459" width="1814" height="1" fill="#dcdee3"/>
<rect x="7" y="661" width="1814" height="1" fill="#dcdee3"/>
<rect x="7" y="864" width="1814" height="1" fill="#dcdee3"/>
<rect x="1733" y="44" width="1" height="848" fill="#dcdee3"/>
<rect x="1734" y="50" width="4" height="1" fill="#dcdee3"/>
<rect x="1734" y="103" width="4" height="1" fill="#dcdee3"/>
<rect x="1734" y="157" width="4" height="1" fill="#dcdee3"/>
<rect x="1734" y="210" width="4" height="1" fill="#dcdee3"/>
<rect x="1734" y="264" width="4" height="1" fill="#dcdee3"/>
<rect x="1734" y="317" width="4" height="1" fill="#dcdee3"/>
<rect x="1734" y="371" width="4" height="1" fill="#dcdee3"/>
<rect x="1734" y="424" width="4" height="1" fill="#dcdee3"/>
<rect x="1734" y="508" width="4" height="1" fill="#dcdee3"/>
<rect x="1734" y="562" width="4" height="1" fill="#dcdee3"/>
<rect x="1734" y="617" width="4" height="1" fill="#dcdee3"/>
<rect x="1734" y="685" width="4" height="1" fill="#dcdee3"/>
<rect x="1734" y="729" width="4" height="1" fill="#dcdee3"/>
<rect x="1734" y="774" width="4" height="1" fill="#dcdee3"/>
<rect x="1734" y="818" width="4" height="1" fill="#dcdee3"/>
<rect x="1734" y="862" width="4" height="1" fill="#dcdee3"/>
<rect x="102" y="865" width="1" height="4" fill="#dcdee3"/>
<rect x="230" y="865" width="1" height="4" fill="#dcdee3"/>
<rect x="313" y="865" width="1" height="4" fill="#dcdee3"/>
<rect x="456" y="865" width="1" height="4" fill="#dcdee3"/>
<rect x="576" y="865" width="1" height="4" fill="#dcdee3"/>
<rect x="689" y="865" width="1" height="4" fill="#dcdee3"/>
<rect x="787" y="865" width="1" height="4" fill="#dcdee3"/>
<rect x="915" y="865" width="1" height="4" fill="#dcdee3"/>
<rect x="998" y="865" width="1" height="4" fill="#dcdee3"/>
<rect x="1149" y="865" width="1" height="4" fill="#dcdee3"/>
<rect x="1261" y="865" width="1" height="4" fill="#dcdee3"/>
<rect x="1382" y="865" width="1" height="4" fill="#dcdee3"/>
<rect x="1472" y="865" width="1" height="4" fill="#dcdee3"/>
<rect x="1608" y="865" width="1" height="4" fill="#dcdee3"/>
</g>
<g clip-path="url(#cpAxMain)">
<text x="1743.1" y="54.5" fill="#20242f" font-size="12.5" textLength="61.0" lengthAdjust="spacingAndGlyphs" >0.00006000</text>
<text x="1743.1" y="107.5" fill="#20242f" font-size="12.5" textLength="61.0" lengthAdjust="spacingAndGlyphs" >0.00005500</text>
<text x="1743.1" y="161.5" fill="#20242f" font-size="12.5" textLength="61.0" lengthAdjust="spacingAndGlyphs" >0.00005000</text>
<text x="1743.1" y="214.5" fill="#20242f" font-size="12.5" textLength="61.0" lengthAdjust="spacingAndGlyphs" >0.00004500</text>
<text x="1743.1" y="268.5" fill="#20242f" font-size="12.5" textLength="61.0" lengthAdjust="spacingAndGlyphs" >0.00004000</text>
<text x="1743.1" y="321.5" fill="#20242f" font-size="12.5" textLength="61.0" lengthAdjust="spacingAndGlyphs" >0.00003500</text>
<text x="1743.1" y="375.5" fill="#20242f" font-size="12.5" textLength="61.0" lengthAdjust="spacingAndGlyphs" >0.00003000</text>
<text x="1743.1" y="428.5" fill="#20242f" font-size="12.5" textLength="61.0" lengthAdjust="spacingAndGlyphs" >0.00002500</text>
<rect x="1763.5" y="51.5" width="27" height="17" rx="3.5" fill="#fff" stroke="#d6d8de"/>
<text x="1767" y="64.3" fill="#20242f" font-size="12.5" textLength="20.3" lengthAdjust="spacingAndGlyphs" >BTC</text>
<rect x="1733" y="173" width="78" height="17.30000000000001" rx="2" fill="#0097a7"/>
<rect x="1733" y="173" width="3" height="17.30000000000001" fill="#0097a7"/>
<rect x="1734" y="181.5" width="4" height="1" fill="#fff" shape-rendering="crispEdges"/>
<text x="1743.1" y="186.25" fill="#fff" font-size="12.5" font-weight="bold" textLength="60.5" lengthAdjust="spacingAndGlyphs" >0.00004758</text>
<rect x="1733" y="190.6" width="78" height="16.400000000000006" rx="2" fill="#2196f3"/>
<rect x="1733" y="190.6" width="3" height="16.400000000000006" fill="#2196f3"/>
<rect x="1734" y="198.5" width="4" height="1" fill="#fff" shape-rendering="crispEdges"/>
<text x="1743.1" y="203.4" fill="#fff" font-size="12.5" font-weight="bold" textLength="60.5" lengthAdjust="spacingAndGlyphs" >0.00004610</text>
</g>
<rect x="1678" y="268.3" width="54" height="16.5" rx="2" fill="#26a69a"/>
<text x="1683.7" y="281" fill="#fff" font-size="12.5" textLength="42.1" lengthAdjust="spacingAndGlyphs" >ADABTC</text>
<rect x="1733" y="268.3" width="78" height="30.6" rx="2" fill="#26a69a"/><rect x="1733" y="268.3" width="3" height="30.6" fill="#26a69a"/>
<rect x="1734" y="276" width="4" height="1" fill="#fff" shape-rendering="crispEdges"/>
<text x="1743.1" y="281" fill="#fff" font-size="12.5" font-weight="bold" textLength="60.5" lengthAdjust="spacingAndGlyphs" >0.00003881</text>
<text x="1743.1" y="294.8" fill="#d3edea" font-size="12.5" textLength="46.5" lengthAdjust="spacingAndGlyphs" >06:40:50</text>
<g clip-path="url(#cpAxMain)">
<rect x="1733" y="446.8" width="61" height="17.19999999999999" rx="2" fill="#26a69a"/>
<rect x="1733" y="446.8" width="3" height="17.19999999999999" fill="#26a69a"/>
<rect x="1734" y="454.5" width="4" height="1" fill="#fff" shape-rendering="crispEdges"/>
<text x="1743.1" y="460.0" fill="#fff" font-size="12.5" font-weight="bold" textLength="43.5" lengthAdjust="spacingAndGlyphs" >12.849M</text>
</g>
<g clip-path="url(#cpAxRsi)">
<text x="1743.1" y="512.5" fill="#20242f" font-size="12.5" textLength="29.5" lengthAdjust="spacingAndGlyphs" >80.00</text>
<text x="1743.1" y="566.5" fill="#20242f" font-size="12.5" textLength="29.5" lengthAdjust="spacingAndGlyphs" >60.00</text>
<text x="1743.1" y="621.5" fill="#20242f" font-size="12.5" textLength="29.5" lengthAdjust="spacingAndGlyphs" >40.00</text>
<rect x="1733" y="598.3" width="46" height="16.600000000000023" rx="2" fill="#8e1599"/>
<rect x="1733" y="598.3" width="3" height="16.600000000000023" fill="#8e1599"/>
<rect x="1734" y="606.5" width="4" height="1" fill="#fff" shape-rendering="crispEdges"/>
<text x="1743.1" y="611.1999999999999" fill="#fff" font-size="12.5" font-weight="bold" textLength="29.5" lengthAdjust="spacingAndGlyphs" >43.89</text>
</g>
<g clip-path="url(#cpAxMacd)">
<text x="1743.1" y="689.5" fill="#20242f" font-size="12.5" textLength="61.0" lengthAdjust="spacingAndGlyphs" >0.00000600</text>
<text x="1743.1" y="733.5" fill="#20242f" font-size="12.5" textLength="61.0" lengthAdjust="spacingAndGlyphs" >0.00000400</text>
<text x="1743.1" y="778.5" fill="#20242f" font-size="12.5" textLength="61.0" lengthAdjust="spacingAndGlyphs" >0.00000200</text>
<text x="1743.1" y="866.5" fill="#20242f" font-size="12.5" textLength="66.6" lengthAdjust="spacingAndGlyphs" >−0.00000200</text>
<rect x="1733" y="783" width="78" height="16.799999999999955" rx="2" fill="#ff6a00"/>
<rect x="1733" y="783" width="3" height="16.799999999999955" fill="#ff6a00"/>
<rect x="1734" y="790.5" width="4" height="1" fill="#fff" shape-rendering="crispEdges"/>
<text x="1743.1" y="796.0" fill="#fff" font-size="12.5" font-weight="bold" textLength="60.3" lengthAdjust="spacingAndGlyphs" >0.00000119</text>
<rect x="1733" y="811.2" width="84" height="16.799999999999955" rx="2" fill="#0094ff"/>
<rect x="1733" y="811.2" width="3" height="16.799999999999955" fill="#0094ff"/>
<rect x="1734" y="819.5" width="4" height="1" fill="#fff" shape-rendering="crispEdges"/>
<text x="1743.1" y="824.2" fill="#fff" font-size="12.5" font-weight="bold" textLength="66.4" lengthAdjust="spacingAndGlyphs" >−0.00000007</text>
<rect x="1733" y="837.2" width="84" height="16.699999999999932" rx="2" fill="#ffcdd2"/>
<rect x="1733" y="837.2" width="3" height="16.699999999999932" fill="#ffcdd2"/>
<rect x="1734" y="845.5" width="4" height="1" fill="#20242f" shape-rendering="crispEdges"/>
<text x="1743.1" y="850.15" fill="#20242f" font-size="12.5" font-weight="normal" textLength="66.6" lengthAdjust="spacingAndGlyphs" >−0.00000126</text>
</g>
<text x="96.9" y="882" fill="#20242f" font-size="12.5" textLength="11.6" lengthAdjust="spacingAndGlyphs" >15</text>
<text x="220.7" y="882" fill="#20242f" font-size="12.5" font-weight="bold" textLength="19.9" lengthAdjust="spacingAndGlyphs" >Apr</text>
<text x="307.7" y="882" fill="#20242f" font-size="12.5" textLength="11.6" lengthAdjust="spacingAndGlyphs" >12</text>
<text x="447.3" y="882" fill="#20242f" font-size="12.5" font-weight="bold" textLength="18.4" lengthAdjust="spacingAndGlyphs" >Mai</text>
<text x="571.1" y="882" fill="#20242f" font-size="12.5" textLength="11.6" lengthAdjust="spacingAndGlyphs" >17</text>
<text x="679.4" y="882" fill="#20242f" font-size="12.5" font-weight="bold" textLength="21" lengthAdjust="spacingAndGlyphs" >Jun</text>
<text x="781.9" y="882" fill="#20242f" font-size="12.5" textLength="11.6" lengthAdjust="spacingAndGlyphs" >14</text>
<text x="906.9" y="882" fill="#20242f" font-size="12.5" font-weight="bold" textLength="17.6" lengthAdjust="spacingAndGlyphs" >Jul</text>
<text x="992.7" y="882" fill="#20242f" font-size="12.5" textLength="11.6" lengthAdjust="spacingAndGlyphs" >12</text>
<text x="1138.7" y="882" fill="#20242f" font-size="12.5" font-weight="bold" textLength="20.7" lengthAdjust="spacingAndGlyphs" >Aug</text>
<text x="1256.2" y="882" fill="#20242f" font-size="12.5" textLength="11.6" lengthAdjust="spacingAndGlyphs" >16</text>
<text x="1372.4" y="882" fill="#20242f" font-size="12.5" font-weight="bold" textLength="20" lengthAdjust="spacingAndGlyphs" >Sep</text>
<text x="1467.0" y="882" fill="#20242f" font-size="12.5" textLength="11.6" lengthAdjust="spacingAndGlyphs" >13</text>
<text x="1598.5" y="882" fill="#20242f" font-size="12.5" font-weight="bold" textLength="19.6" lengthAdjust="spacingAndGlyphs" >Okt</text>
<rect x="6.5" y="43.5" width="1815" height="849" fill="none" stroke="#000" stroke-width="1" shape-rendering="crispEdges"/>
<g>
<path d="M9.2 918 C7 918 5.9 916.3 5.9 914 C5.9 910.6 8.3 908.2 11.7 908.3 C12.2 905 15 902.7 18.4 902.7 C21.5 902.7 24.1 904.6 25 907.5 C25.6 907.3 26.3 907.2 27 907.2 C30 907.2 32.2 909.6 32.2 912.6 C32.2 915.8 30.2 918 27.6 918 Z" fill="#2f62ff"/>
<path d="M6.4 915.8 L15.8 908.4 L22 914.4 L28.4 907.6" fill="none" stroke="#fff" stroke-width="1.2"/>
<circle cx="15.8" cy="908.6" r="1.75" fill="#fff"/><circle cx="22" cy="914.4" r="1.75" fill="#fff"/>
<text x="34.1" y="914.9" fill="#131722" font-size="13" textLength="70.6" lengthAdjust="spacingAndGlyphs" >TradingView</text>
</g>
</svg>
</body></html>
